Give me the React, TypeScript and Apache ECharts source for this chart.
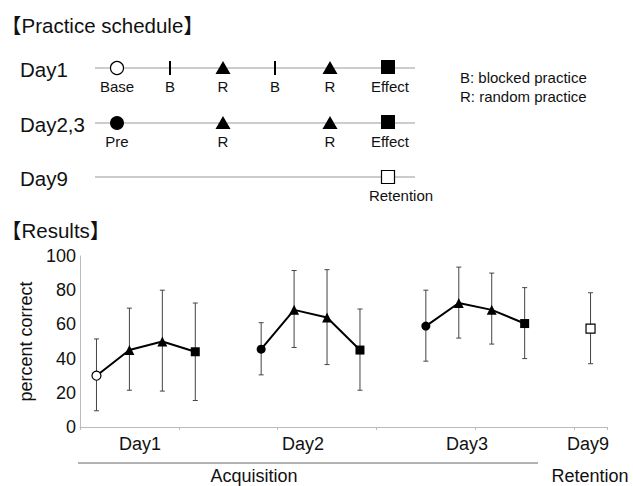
import React, { useEffect, useRef } from "react";
import * as echarts from "echarts";

// ---------- data ----------
const categories = [
  "D1 Base", "D1 R1", "D1 R2", "D1 Effect", "",
  "D2 Pre", "D2 R1", "D2 R2", "D2 Effect", " ",
  "D3 Pre", "D3 R1", "D3 R2", "D3 Effect", "  ",
  "D9 Retention",
];
const meanValues = [30, 45, 50, 44, null, 45.5, 68.5, 64, 45, null, 59, 72.5, 68.5, 60.5, null, 57.5];
const lowValues = [9.5, 21.5, 21, 15.5, null, 30.5, 46.5, 36.5, 21.5, null, 38.5, 52, 48.5, 40, null, 37];
const highValues = [51.5, 69.5, 80, 72.5, null, 61, 91.5, 92, 69, null, 80, 93.5, 90, 81.5, null, 78.5];
const pointKinds = [
  "openCircle", "triangle", "triangle", "square", null,
  "circle", "triangle", "triangle", "square", null,
  "circle", "triangle", "triangle", "square", null,
  "openSquare",
];
const yMin = 0;
const yMax = 100;
const yInterval = 20;
const dayLabels = ["Day1", "Day2", "Day3", "Day9"];
const phaseLabels = ["Acquisition", "Retention"];
const yAxisName = "percent correct";
const scheduleTitle = "【Practice schedule】";
const resultsTitle = "【Results】";
const scheduleRows = ["Day1", "Day2,3", "Day9"];
const day1Kinds = ["openCircle", "bar", "triangle", "bar", "triangle", "square"];
const day1Labels = ["Base", "B", "R", "B", "R", "Effect"];
const day23Kinds = ["circle", null, "triangle", null, "triangle", "square"];
const day23Labels = ["Pre", "", "R", "", "R", "Effect"];
const day9Kinds = [null, null, null, null, null, "openSquare"];
const day9Labels = ["", "", "", "", "", "Retention"];
const legendLines = ["B: blocked practice", "R: random practice"];

// ---------- layout / style ----------
const FONT = "'Liberation Sans', Arial, Helvetica, sans-serif";
const TITLE_FONT = "'Liberation Sans', 'Noto Sans CJK JP', sans-serif";
const slotX = [117, 170, 223, 275, 330, 388];
const rowY = [68, 123, 177];

function markerEl(kind: string, x: number, y: number): any[] {
  switch (kind) {
    case "openCircle":
      return [{ type: "circle", shape: { cx: x, cy: y, r: 6.5 }, style: { fill: "#fff", stroke: "#000", lineWidth: 1.2 } }];
    case "circle":
      return [{ type: "circle", shape: { cx: x, cy: y, r: 7 }, style: { fill: "#000" } }];
    case "triangle":
      return [{ type: "polygon", shape: { points: [[x - 7.5, y + 6], [x, y - 7], [x + 7.5, y + 6]] }, style: { fill: "#000" } }];
    case "square":
      return [{ type: "rect", shape: { x: x - 7, y: y - 8, width: 14, height: 14 }, style: { fill: "#000" } }];
    case "openSquare":
      return [{ type: "rect", shape: { x: x - 6.5, y: y - 6.5, width: 13, height: 13 }, style: { fill: "#fff", stroke: "#000", lineWidth: 1.2 } }];
    case "bar":
      return [{ type: "line", shape: { x1: x, y1: y - 7, x2: x, y2: y + 7 }, style: { stroke: "#000", lineWidth: 2 } }];
    default:
      return [];
  }
}

function textEl(text: string, x: number, y: number, size: number, align = "center", family = FONT): any {
  return {
    type: "text",
    style: {
      text, x, y,
      fontSize: size, fontFamily: family,
      fill: "#111",
      textAlign: align, textVerticalAlign: "middle",
      align, verticalAlign: "middle",
    },
  };
}

export default function App() {
  const ref = useRef<HTMLDivElement>(null);
  useEffect(() => {
    document.body.style.margin = "0";
    if (!ref.current) return;
    const chart = echarts.init(ref.current, null, { renderer: "svg" });

    const graphics: any[] = [];
    graphics.push(textEl(scheduleTitle, 1, 25, 20.5, "left", TITLE_FONT));
    graphics.push(textEl(resultsTitle, 1, 230, 20.5, "left", TITLE_FONT));

    const rowKinds = [day1Kinds, day23Kinds, day9Kinds];
    const rowLabels = [day1Labels, day23Labels, day9Labels];
    scheduleRows.forEach((name, r) => {
      const y = rowY[r];
      graphics.push(textEl(name, 20, y + 1, 20.5, "left"));
      graphics.push({ type: "line", shape: { x1: 95, y1: y, x2: 415, y2: y }, style: { stroke: "#999", lineWidth: 1 } });
      rowKinds[r].forEach((k, i) => {
        if (k) graphics.push(...markerEl(k, slotX[i], y));
        const lab = rowLabels[r][i];
        if (lab) {
          const lx = lab === "Retention" ? 401 : lab === "Effect" ? 390 : slotX[i];
          graphics.push(textEl(lab, lx, y + 18, 15));
        }
      });
    });
    legendLines.forEach((t, i) => graphics.push(textEl(t, 460, 77 + i * 19, 15, "left")));

    // x-axis group labels
    const dayX = [140, 303, 467, 588];
    dayLabels.forEach((d, i) => graphics.push(textEl(d, dayX[i], 444, 18)));
    graphics.push({ type: "line", shape: { x1: 78, y1: 463, x2: 538, y2: 463 }, style: { stroke: "#666", lineWidth: 1 } });
    graphics.push(textEl(phaseLabels[0], 254, 476, 18));
    graphics.push(textEl(phaseLabels[1], 590, 476, 18));

    const errData = categories
      .map((_, i) => (lowValues[i] == null ? null : [i, lowValues[i], highValues[i]]))
      .filter((d) => d != null);

    const lineData = meanValues.map((v, i) => {
      if (v == null) return "-";
      const k = pointKinds[i];
      const open = k === "openCircle" || k === "openSquare";
      const symbol = k === "openCircle" || k === "circle" ? "circle" : k === "triangle" ? "triangle" : "rect";
      return {
        value: v,
        symbol,
        symbolSize: k === "triangle" ? 10 : 9,
        itemStyle: open
          ? { color: "#fff", borderColor: "#000", borderWidth: 1.2 }
          : { color: "#000", borderColor: "#000", borderWidth: 0 },
      };
    });

    chart.setOption({
      animation: false,
      textStyle: { fontFamily: FONT },
      grid: { left: 80, right: 26, top: 256, bottom: 59, containLabel: false },
      xAxis: {
        type: "category",
        data: categories,
        boundaryGap: true,
        axisLine: { lineStyle: { color: "#bbb", width: 1 } },
        axisTick: { show: true, length: 3, lineStyle: { color: "#bbb" } },
        axisLabel: { show: false },
        splitLine: { show: false },
      },
      yAxis: {
        type: "value",
        min: yMin,
        max: yMax,
        interval: yInterval,
        name: yAxisName,
        nameLocation: "middle",
        nameGap: 40,
        nameRotate: 90,
        nameTextStyle: { fontSize: 18, color: "#111", fontFamily: FONT },
        axisLine: { show: true, lineStyle: { color: "#bbb", width: 1 } },
        axisTick: { show: false },
        axisLabel: { fontSize: 18, color: "#111", margin: 4, fontFamily: FONT },
        splitLine: { show: false },
      },
      series: [
        {
          type: "custom",
          z: 1,
          data: errData,
          renderItem: (params: any, api: any) => {
            const x = api.value(0);
            const top = api.coord([x, api.value(2)]);
            const bot = api.coord([x, api.value(1)]);
            const w = 2.5;
            const st = { stroke: "#444", lineWidth: 1 };
            return {
              type: "group",
              children: [
                { type: "line", shape: { x1: top[0], y1: top[1], x2: bot[0], y2: bot[1] }, style: st },
                { type: "line", shape: { x1: top[0] - w, y1: top[1], x2: top[0] + w, y2: top[1] }, style: st },
                { type: "line", shape: { x1: bot[0] - w, y1: bot[1], x2: bot[0] + w, y2: bot[1] }, style: st },
              ],
            };
          },
        },
        {
          type: "line",
          z: 3,
          data: lineData,
          connectNulls: false,
          lineStyle: { color: "#000", width: 2 },
          itemStyle: { color: "#000" },
          showAllSymbol: true,
        },
      ],
      graphic: graphics,
    });
    return () => chart.dispose();
  }, []);
  return <div ref={ref} style={{ width: 633, height: 486 }} />;
}
